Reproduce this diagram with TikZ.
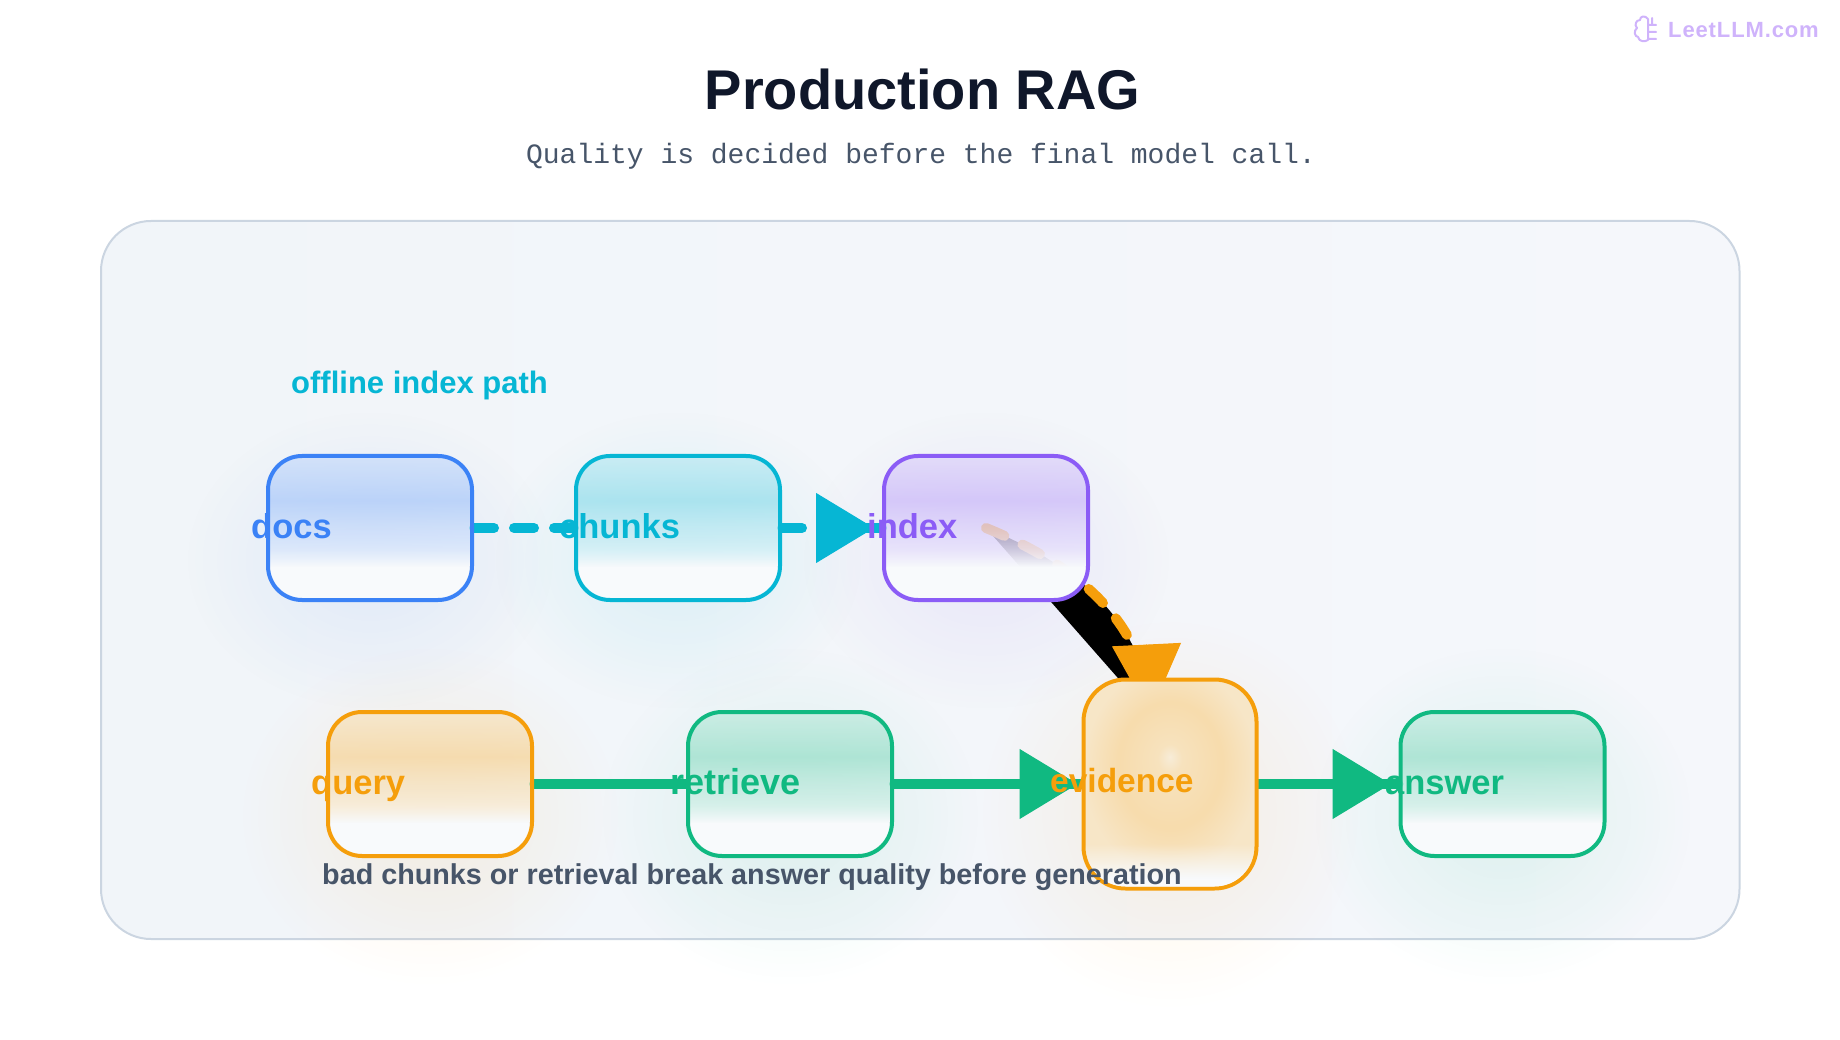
\documentclass[tikz,border=0pt]{standalone}
\usepackage{fontspec}
\setmainfont{Liberation Sans}
\setmonofont{Liberation Mono}
\newfontfamily\markfont[LetterSpace=4]{Liberation Sans}
\usetikzlibrary{positioning, calc, arrows.meta, fadings}
\definecolor{titlenavy}{RGB}{15, 23, 42}
\definecolor{slatetext}{RGB}{71, 85, 105}
\definecolor{panelline}{RGB}{203, 213, 225}
\definecolor{panelleft}{RGB}{241, 245, 249}
\definecolor{panelright}{RGB}{245, 247, 251}
\definecolor{basewhite}{RGB}{248, 250, 252}
\definecolor{docblue}{RGB}{59, 130, 246}
\definecolor{chunkcyan}{RGB}{6, 182, 212}
\definecolor{indexviolet}{RGB}{139, 92, 246}
\definecolor{warmamber}{RGB}{245, 158, 11}
\definecolor{flowgreen}{RGB}{16, 185, 129}
\definecolor{markviolet}{RGB}{207, 179, 251}
\pgfdeclarelayer{back}
\pgfsetlayers{back,main}
\newcommand{\declarestage}[1]{\pgfdeclareverticalshading{stage#1}{100bp}{color(0bp)=(basewhite); color(36.5bp)=(basewhite); color(42.5bp)=(#1!15!basewhite); color(59.5bp)=(#1!40!basewhite); color(75bp)=(#1!24!basewhite); color(100bp)=(#1!24!basewhite)}}
\declarestage{docblue}
\declarestage{chunkcyan}
\declarestage{indexviolet}
\declarestage{warmamber}
\declarestage{flowgreen}
\pgfdeclareverticalshading{stagealpha}{100bp}{color(0bp)=(transparent!0); color(36.5bp)=(transparent!0); color(50bp)=(transparent!25); color(100bp)=(transparent!25)}
\pgfdeclarefading{stagefade}{\pgfuseshading{stagealpha}}
\pgfdeclareradialshading{glowalpha}{\pgfpointorigin}{color(0bp)=(transparent!0); color(25bp)=(transparent!100); color(50bp)=(transparent!100)}
\pgfdeclarefading{glowfade}{\pgfuseshading{glowalpha}}
\pgfdeclareverticalshading{capalpha}{100bp}{color(0bp)=(transparent!0); color(30bp)=(transparent!0); color(50bp)=(transparent!100); color(100bp)=(transparent!100)}
\pgfdeclarefading{capfade}{\pgfuseshading{capalpha}}
\pgfdeclareradialshading{evidencewarm}{\pgfpoint{0bp}{6.5bp}}{color(0bp)=(warmamber!15!basewhite); color(3.5bp)=(warmamber!26!basewhite); color(15bp)=(warmamber!33!basewhite); color(25bp)=(warmamber!22!basewhite); color(50bp)=(warmamber!22!basewhite)}
\tikzset{
  stagebox/.style={rectangle, draw=#1, preaction={shade, shading=stage#1, path fading=stagefade}, rounded corners=34pt, minimum width=204pt, minimum height=144pt, line width=4pt},
  evidencebox/.style={rectangle, draw=warmamber, shade, shading=evidencewarm, rounded corners=42pt, minimum width=173pt, minimum height=209pt, line width=4pt},
  stagelabel/.style={anchor=base west, inner sep=0pt, text=#1, font=\fontsize{34.5pt}{40pt}\selectfont\bfseries},
  flowline/.style={draw=#1, line width=10pt, line cap=round},
  dashline/.style={flowline=#1, dash pattern=on 20pt off 20pt},
  headtip/.style={draw=#1, line width=1pt, -{Triangle[length=58pt,width=70pt]}},
  glow/.style={fill=#1, path fading=glowfade, fill opacity=0.1},
}

\begin{document}
\begin{tikzpicture}[x=1pt, y=-1pt]
\useasboundingbox (0,0) rectangle (1840,1040);
\node[stagebox=docblue] (docs) at (370,528) {};
\node[stagebox=chunkcyan, right=100pt of docs] (chunks) {};
\node[stagebox=indexviolet, right=100pt of chunks] (index) {};
\node[stagebox=warmamber] (query) at (430,784) {};
\node[stagebox=flowgreen, right=152pt of query] (retrieve) {};
\node[evidencebox] (evidence) at (1170,784) {};
\node[stagebox=flowgreen] (answer) at (1502.5,784) {};
\coordinate (evidencetip) at ($(evidence.north)+(-20,37)$);
\begin{pgfonlayer}{back}
\node[rectangle, draw=panelline, line width=2pt, rounded corners=50pt, left color=panelleft, right color=panelright, minimum width=1638.5pt, minimum height=718pt] (panel) at (920.25,580) {};
\fill[glow=docblue] ($(docs)+(0,32)$) ellipse (185pt and 150pt);
\fill[glow=chunkcyan] ($(chunks)+(0,32)$) ellipse (185pt and 150pt);
\fill[glow=indexviolet] ($(index)+(0,32)$) ellipse (185pt and 150pt);
\fill[glow=warmamber] ($(query)+(0,32)$) ellipse (190pt and 170pt);
\fill[glow=flowgreen] ($(retrieve)+(0,32)$) ellipse (190pt and 170pt);
\fill[glow=warmamber] ($(evidence)+(0,30)$) ellipse (190pt and 195pt);
\fill[glow=flowgreen] ($(answer)+(0,32)$) ellipse (190pt and 170pt);
\draw[flowline=warmamber, fill=black, dash pattern=on 20pt off 20pt] (index.center) .. controls ($(index.center)+(106.7,43.3)$) and ($(evidencetip)+(-3.3,-80.7)$) .. (evidencetip);
\draw[draw=warmamber, line width=1pt, -{Triangle[length=70pt,width=69pt]}] ($(evidencetip)+(-3.5,-70)$) -- (evidencetip);
\draw[dashline=chunkcyan] (docs.east) -- (chunks.west);
\draw[dashline=chunkcyan] (chunks.east) -- (index.west);
\draw[headtip=chunkcyan] ($(index.west)+(-66,0)$) -- ($(index.west)+(-8,0)$);
\draw[flowline=flowgreen] (query.east) -- (retrieve.west);
\draw[flowline=flowgreen] (retrieve.east) -- (evidence.west);
\draw[headtip=flowgreen] ($(evidence.west)+(-62,0)$) -- ($(evidence.west)+(-4,0)$);
\draw[flowline=flowgreen] (evidence.east) -- (answer.west);
\draw[headtip=flowgreen] ($(answer.west)+(-66,0)$) -- ($(answer.west)+(-8,0)$);
\end{pgfonlayer}
\begin{scope}
\clip[rounded corners=40pt] ($(evidence.south west)+(4,-4)$) rectangle ($(evidence.north east)+(-4,4)$);
\fill[basewhite, path fading=capfade] ($(evidence.south west)+(4,-4)$) rectangle ($(evidence.south east)+(-4,-90)$);
\end{scope}
\node[stagelabel=docblue] (docslabel) at (251,538) {docs};
\node[stagelabel=chunkcyan] (chunkslabel) at (559,538) {chunks};
\node[stagelabel=indexviolet] (indexlabel) at (867,538) {index};
\node[stagelabel=warmamber] (querylabel) at (311,794) {query};
\node[stagelabel=flowgreen, font=\fontsize{36pt}{40pt}\selectfont\bfseries] (retrievelabel) at (670,794) {retrieve};
\node[stagelabel=warmamber, font=\fontsize{33.5pt}{40pt}\selectfont\bfseries] (evidencelabel) at (1050,792) {evidence};
\node[stagelabel=flowgreen] (answerlabel) at (1385,794) {answer};
\node[anchor=base west, inner sep=0pt, text=chunkcyan, font=\fontsize{31pt}{36pt}\selectfont\bfseries] (pathlabel) at (291,394) {offline index path};
\node[anchor=base west, inner sep=0pt, text=slatetext, font=\fontsize{28.75pt}{33pt}\selectfont\bfseries] (notelabel) at (322,884) {bad chunks or retrieval break answer quality before generation};
\node[anchor=base, inner sep=0pt, text=titlenavy, font=\fontsize{56pt}{64pt}\selectfont\bfseries] (title) at (922.5,110) {Production RAG};
\node[anchor=base, inner sep=0pt, text=slatetext, font=\fontsize{28pt}{32pt}\selectfont\ttfamily] (subtitle) at (921,164) {Quality is decided before the final model call.};
\node[anchor=base west, inner sep=0pt, text=markviolet, font=\fontsize{22pt}{26pt}\selectfont\markfont\bfseries] (mark) at (1668,38) {LeetLLM.com};
\draw[markviolet, line width=2pt, line cap=round, line join=round] (1648,19) .. controls (1645,15) and (1640,16) .. (1640,20) .. controls (1636,20) and (1634,25) .. (1637,28) .. controls (1633,31) and (1635,37) .. (1638,37) .. controls (1639,42) and (1645,42) .. (1648,40) (1648,19) -- (1648,40) (1648,25) -- (1656,25) (1648,32) -- (1656,32) (1648,39) -- (1656,39) (1652,25) -- (1652,18);
\end{tikzpicture}
\end{document}
